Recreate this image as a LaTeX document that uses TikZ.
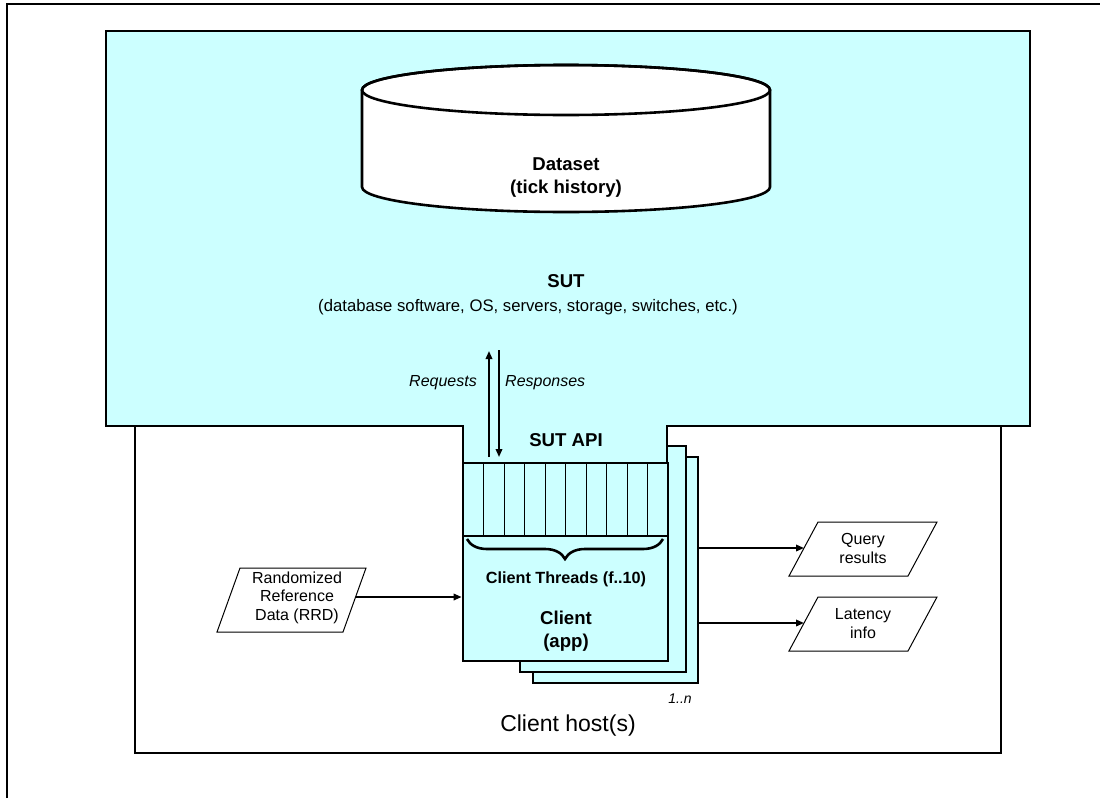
\documentclass[tikz,border=0pt]{standalone}
\usepackage{fontspec}
\setmainfont{Liberation Sans}
\usetikzlibrary{arrows.meta,decorations.pathreplacing}
\definecolor{sutcyan}{RGB}{204,255,255}
\begin{document}
\begin{tikzpicture}[x=1pt,y=-1pt,
  heavy/.style={line width=2.8pt,line join=miter},
  cbox/.style={draw,heavy,fill=sutcyan,inner sep=0pt},
  para/.style={draw,line width=1pt,fill=white,line join=miter},
  conn/.style={line width=1.8pt,-{Triangle[length=8pt,width=6.5pt]}},
  lbl/.style={inner sep=0pt,font=\fontsize{16}{18.3}\selectfont,align=center},
  blbl/.style={inner sep=0pt,font=\fontsize{18.6}{23}\selectfont\bfseries,align=center},
  ilbl/.style={inner sep=0pt,font=\fontsize{16}{18}\selectfont\itshape}
]
\useasboundingbox (0,0) rectangle (1100,798);
% outer frame
\draw[line width=1.3pt] (7,798) -- (7,4) -- (1100,4);
% client host
\node[draw,heavy,fill=white,minimum width=866pt,minimum height=327pt,inner sep=0pt] (host) at (568,589.5) {};
% stacked client boxes (back ones)
\node[cbox,minimum width=165pt,minimum height=226pt] (third) at (615.5,570) {};
\node[cbox,minimum width=166pt,minimum height=226pt] (second) at (603,559) {};
% SUT region
\draw[heavy,fill=sutcyan] (106,31) -- (1030,31) -- (1030,426) -- (667,426) -- (667,463)
   -- (463,463) -- (463,426) -- (106,426) -- cycle;
% front client box
\node[cbox,minimum width=205pt,minimum height=198pt] (front) at (565.5,562) {};
\draw[line width=2.4pt] (463,536) -- (668,536);
\foreach \i in {1,...,9} \draw[line width=0.9pt] ({463+\i*20.5},463) -- ({463+\i*20.5},536);
\draw[line width=2.6pt,decorate,decoration={brace,mirror,amplitude=20pt}] (467,539) -- (663,539);
% cylinder
\draw[line width=2.6pt,fill=white] (362,90) -- (362,187)
   arc[start angle=180,end angle=360,x radius=204pt,y radius=25pt] -- (770,90)
   arc[start angle=0,end angle=180,x radius=204pt,y radius=25pt] -- cycle;
\draw[line width=2.6pt] (566,90) ellipse[x radius=204pt,y radius=25pt];
\node[blbl,anchor=base] (dataset) at (566,193) {Dataset\\(tick history)};
% SUT texts
\node[blbl,anchor=base] (sut) at (566,287.5) {SUT};
\node[inner sep=0pt,font=\fontsize{16.7}{20}\selectfont,anchor=base] (sutdesc) at (528,311) {(database software, OS, servers, storage, switches, etc.)};
\node[blbl,anchor=base] (api) at (566,446) {SUT API};
% requests / responses
\coordinate (reqlo) at (489,457);
\coordinate (reqhi) at (489,351);
\coordinate (reshi) at (499,350);
\coordinate (reslo) at (499,457);
\draw[conn] (reqlo) -- (reqhi);
\draw[conn] (reshi) -- (reslo);
\node[ilbl,anchor=base east] (req) at (477,386) {Requests};
\node[ilbl,anchor=base west] (res) at (505,386) {Responses};
% client texts
\node[inner sep=0pt,font=\fontsize{16.2}{18}\selectfont\bfseries,anchor=base] (threads) at (566,583) {Client Threads (f..10)};
\node[blbl,anchor=base] (client) at (566,647) {Client\\(app)};
\node[inner sep=0pt,font=\fontsize{14}{16}\selectfont\itshape,anchor=base] (n) at (680,703) {1..n};
\node[inner sep=0pt,font=\fontsize{23}{26}\selectfont,anchor=base] (hosttxt) at (568,731) {Client host(s)};
% RRD
\draw[para] (217,632) -- (343,632) -- (366,568) -- (240,568) -- cycle;
\node[lbl,anchor=base] (rrd) at (297,620) {Randomized\\Reference\\Data (RRD)};
\coordinate (rrdR) at (356,597);
\draw[conn] (rrdR) -- (rrdR -| front.west);
% outputs
\draw[para] (789,576) -- (908,576) -- (937,522) -- (818,522) -- cycle;
\node[lbl,anchor=base] (query) at (863,563) {Query\\results};
\draw[para] (789,651) -- (908,651) -- (937,597) -- (818,597) -- cycle;
\node[lbl,anchor=base] (lat) at (863,638) {Latency\\info};
\coordinate (qL) at (804,548);
\coordinate (lL) at (804,623);
\draw[conn] (qL -| third.east) -- (qL);
\draw[conn] (lL -| third.east) -- (lL);
\end{tikzpicture}
\end{document}
